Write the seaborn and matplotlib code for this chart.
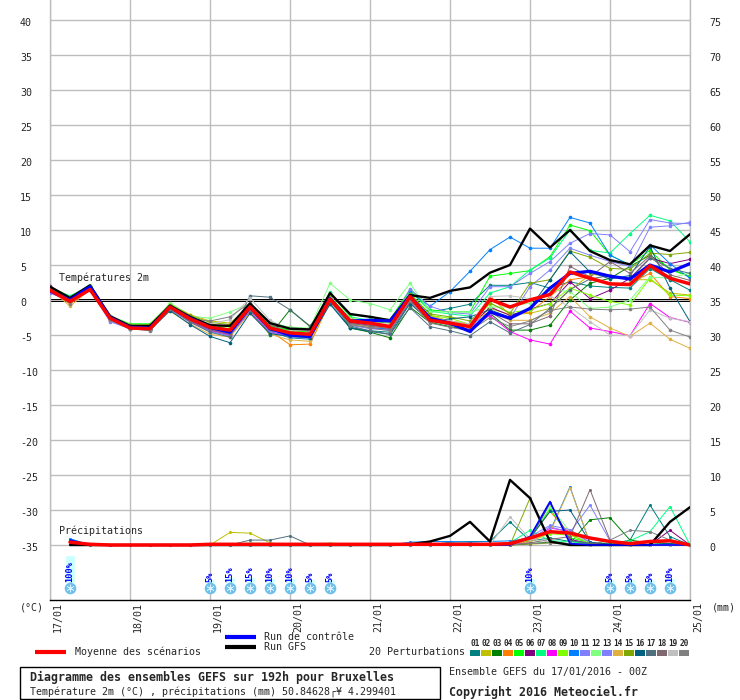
import matplotlib
matplotlib.use('Agg')
import matplotlib.pyplot as plt
from matplotlib.lines import Line2D
from matplotlib.patches import Rectangle
from matplotlib.transforms import ScaledTranslation
import numpy as np
import pandas as pd
import seaborn as sns

# forecast steps, every 6h for 192h
hours = list(range(0, 198, 6))
day_ticks = list(range(0, 216, 24))
day_labels = ['17/01', '18/01', '19/01', '20/01', '21/01', '22/01', '23/01', '24/01', '25/01']

temp_ticks = list(range(-35, 45, 5))
precip_ticks = list(range(0, 80, 5))

member_names = ['01', '02', '03', '04', '05', '06', '07', '08', '09', '10',
                '11', '12', '13', '14', '15', '16', '17', '18', '19', '20']
member_colors = ['#008080', '#c0c000', '#008000', '#ff8000', '#00ff00', '#800080', '#00ff80',
                 '#ff00ff', '#80ff00', '#0080ff', '#8080ff', '#80ff80', '#8080ff', '#e0b040',
                 '#80a800', '#006080', '#507080', '#806870', '#c0c0c0', '#808080']

# temperature 2m per perturbation
t01 = [1.5, 0.3, 1.7, -2.6, -4.0, -4.2, -1.3, -3.0, -4.4, -5.1, -1.6, -4.5, -5.4, -5.6, -0.5, -3.9, -4.4, -4.6, -0.3, -1.7, -1.2, -0.6, 2.1, 2.1, 2.5, 1.7, 2.6, 2.0, 1.8, 1.7, 4.5, 2.9, 1.4]
t02 = [1.7, -0.3, 1.6, -2.5, -3.7, -3.8, -0.5, -2.1, -3.0, -3.3, -0.8, -3.6, -4.4, -4.6, 0.2, -3.0, -3.3, -3.8, 0.4, -2.2, -3.0, -3.5, -1.2, -2.1, -1.9, -1.2, 1.4, 3.6, 3.6, 2.9, 2.9, 1.0, 0.7]
t03 = [1.6, 0.1, 2.0, -2.4, -3.8, -4.0, -1.2, -3.0, -4.1, -4.7, -1.2, -5.0, -1.4, -3.8, 0.4, -4.0, -4.6, -5.4, -1.0, -3.2, -3.8, -4.3, -1.9, -4.3, -4.3, -3.6, 0.0, 2.4, 3.1, 4.8, 6.4, 4.5, 3.3]
t04 = [1.5, -0.6, 1.5, -2.7, -3.9, -4.2, -1.4, -3.1, -4.3, -5.0, -1.3, -4.4, -6.4, -6.3, -0.3, -3.3, -3.9, -4.1, 0.8, -2.3, -3.2, -4.0, 0.5, -2.1, -1.7, 0.5, 2.9, 3.3, 2.4, 2.4, 3.8, 0.5, 0.2]
t05 = [1.9, 0.5, 1.9, -2.3, -3.4, -3.4, -0.6, -2.4, -3.6, -4.2, -0.9, -3.7, -4.3, -4.6, 1.0, -2.1, -2.4, -2.8, 1.5, -1.4, -1.7, -1.7, 3.4, 3.8, 4.2, 6.2, 10.7, 9.9, 6.4, 5.0, 7.1, 4.3, 3.4]
t06 = [2.0, 0.2, 1.8, -2.6, -4.0, -4.1, -1.0, -2.8, -4.1, -4.9, -1.1, -3.7, -3.9, -4.5, 0.5, -3.2, -3.6, -4.0, 0.2, -2.8, -3.2, -3.9, -1.0, -2.2, -1.3, -0.5, 2.6, 0.2, 1.4, 3.1, 6.0, 5.2, 5.8]
t07 = [1.7, 0.6, 2.0, -2.5, -3.7, -3.8, -0.8, -2.4, -3.5, -4.2, -0.7, -3.7, -4.5, -5.0, 1.1, -2.4, -2.9, -3.1, 1.3, -1.6, -2.0, -2.3, 1.0, 1.9, 4.3, 6.0, 10.0, 7.1, 6.7, 9.5, 12.1, 11.3, 8.3]
t08 = [1.8, 0.0, 1.7, -2.4, -3.6, -4.2, -1.1, -3.0, -4.3, -5.0, -1.7, -4.6, -5.1, -5.3, 0.2, -3.5, -3.9, -4.2, -0.3, -3.0, -3.2, -3.9, -2.2, -4.5, -5.7, -6.3, -1.6, -4.0, -4.5, -5.1, -0.5, -2.5, -3.2]
t09 = [1.7, 0.1, 1.9, -2.3, -3.5, -3.5, -0.6, -2.6, -3.5, -3.9, -0.7, -3.9, -4.9, -5.2, 0.6, -2.6, -3.1, -3.3, 1.0, -2.2, -2.6, -3.5, -0.5, -1.8, -1.4, -0.5, 1.7, 0.7, -0.2, -0.7, 3.1, 0.7, 0.6]
t10 = [1.3, 0.4, 1.8, -2.7, -4.0, -4.2, -1.2, -2.9, -4.2, -4.8, -1.3, -4.2, -5.0, -5.3, 0.0, -3.4, -3.9, -4.2, 1.1, -0.9, 1.2, 4.1, 7.2, 9.0, 7.4, 7.4, 11.8, 11.0, 6.4, 5.0, 7.9, 5.2, 3.1]
t11 = [1.1, -0.1, 1.6, -3.0, -4.0, -4.1, -1.3, -2.8, -3.9, -4.4, -1.2, -4.3, -5.0, -5.0, -0.2, -3.0, -3.5, -3.7, 1.6, -0.9, -1.8, -2.0, 1.9, 1.9, 3.8, 5.5, 8.1, 9.5, 9.3, 6.9, 11.5, 11.0, 10.9]
t12 = [1.9, 0.4, 2.2, -2.3, -3.5, -3.7, -0.4, -2.3, -2.6, -1.7, -0.5, -3.2, -3.9, -4.0, 2.4, 0.0, -0.5, -1.4, 2.4, -1.7, -1.7, -1.7, -1.0, -1.0, -0.4, 1.5, 1.2, -1.2, -1.0, 0.0, 3.3, 3.1, 3.9]
t13 = [1.0, -0.2, 1.5, -3.1, -4.1, -4.3, -1.4, -3.2, -4.5, -5.1, -1.5, -4.6, -5.3, -5.5, -0.4, -3.6, -4.1, -4.3, 0.6, -2.9, -3.4, -3.7, -1.8, -2.6, 1.9, 4.3, 7.4, 6.4, 5.5, 4.8, 10.4, 10.6, 11.1]
t14 = [1.6, -0.9, 1.5, -2.8, -4.1, -4.2, -1.6, -3.4, -4.9, -5.3, -1.8, -4.9, -5.7, -5.9, -0.3, -3.5, -3.8, -4.0, 0.4, -2.5, -3.0, -3.4, -1.6, -2.9, -2.9, -1.9, 0.5, -2.4, -4.0, -5.2, -3.3, -5.6, -6.9]
t15 = [1.7, 0.2, 1.9, -2.5, -3.6, -3.6, -0.7, -2.2, -3.2, -3.5, -1.1, -3.8, -4.6, -4.9, 0.5, -3.0, -3.4, -3.7, 0.9, -2.0, -2.4, -3.0, -0.4, -1.9, 2.4, 2.9, 7.0, 6.1, 4.5, 4.4, 6.7, 6.5, 6.8]
t16 = [1.4, -0.1, 1.7, -2.7, -4.1, -4.3, -1.5, -3.5, -5.2, -6.1, -1.9, -4.8, -5.2, -5.4, -0.6, -4.0, -4.5, -4.9, -0.5, -3.0, -2.7, -2.4, -1.4, -2.5, -1.2, 2.9, 6.9, 4.0, 3.0, 3.5, 7.6, 1.7, -3.1]
t17 = [1.5, 0.1, 1.8, -2.6, -4.0, -4.2, -1.2, -3.1, -4.6, -5.3, 0.6, 0.4, -1.4, -3.7, 0.0, -3.7, -4.4, -4.9, -1.1, -3.8, -4.4, -5.1, -3.1, -4.7, -3.5, -1.2, 1.5, 3.0, 3.5, 3.0, 6.0, 4.5, 3.8]
t18 = [1.6, 0.0, 1.7, -2.5, -3.9, -4.1, -1.1, -2.9, -4.2, -4.9, -1.4, -4.1, -4.7, -5.0, 0.1, -3.3, -3.7, -4.1, 0.0, -3.0, -3.6, -4.2, -1.7, -3.4, -3.4, -2.3, 4.8, 3.3, 5.5, 3.8, 6.3, 3.6, 2.8]
t19 = [1.5, -0.4, 1.6, -2.6, -3.8, -3.9, -0.9, -2.5, -3.4, -2.8, 0.3, -2.9, -4.3, -4.4, 0.3, -2.7, -3.2, -3.5, 0.3, -2.5, -3.0, -3.4, 0.5, 0.6, 0.2, 0.6, -1.0, -3.1, -5.0, -5.1, -1.4, -2.6, -3.1]
t20 = [1.5, -0.5, 1.6, -2.8, -4.1, -4.4, -1.3, -2.7, -3.0, -2.4, -0.4, -3.4, -4.8, -5.1, -0.1, -3.5, -4.0, -4.4, -0.2, -3.3, -3.9, -4.4, -2.5, -3.8, -3.0, -1.5, -1.0, -1.3, -1.4, -1.3, -1.0, -4.3, -5.3]
temp_members = [t01, t02, t03, t04, t05, t06, t07, t08, t09, t10,
                t11, t12, t13, t14, t15, t16, t17, t18, t19, t20]

temp_gfs = [1.9, 0.3, 2.1, -2.3, -3.7, -3.7, -0.8, -2.4, -3.6, -3.7, -0.5, -3.3, -4.1, -4.2, 1.0, -2.0, -2.4, -2.9, 0.7, 0.3, 1.3, 1.8, 3.9, 5.0, 10.2, 7.5, 10.0, 7.0, 5.7, 5.1, 7.8, 7.0, 9.4]
temp_control = [1.3, 0.0, 1.9, -2.5, -3.9, -4.0, -1.0, -2.6, -3.9, -4.6, -1.0, -4.1, -5.0, -5.2, 0.2, -3.0, -2.9, -3.0, 0.5, -2.6, -3.3, -4.5, -1.7, -2.6, -1.2, 1.7, 3.8, 4.1, 3.4, 3.0, 5.0, 4.0, 5.2]
temp_mean = [1.4, -0.2, 1.5, -2.6, -4.0, -4.1, -1.0, -2.7, -3.9, -4.3, -1.0, -4.0, -4.7, -4.9, 0.1, -3.0, -3.3, -3.8, 0.5, -2.9, -3.3, -3.8, 0.1, -1.0, 0.0, 0.8, 4.0, 3.1, 2.3, 2.2, 4.9, 3.1, 2.3]

# precipitation per perturbation, starts at +6h
precip_hours = hours[1:]
p01 = [.6, 0, 0, 0, 0, 0, 0, 0, 0, 0, 0, 0, 0, 0, 0, 0, 0, 0, 0, .4, .5, .5, 3.3, .6, 1, .5, .2, .1, .7, 5.7, 1.2, 0]
p02 = [.5, 0, 0, 0, 0, 0, 0, 0, 1.8, 1.7, .3, 0, 0, 0, 0, 0, 0, 0, 0, 0, 0, 0, 0, .1, .3, .2, 0, 0, 0, 0, 0, 0]
p03 = [.5, 0, 0, 0, 0, 0, 0, 0, 0, 0, 0, 0, 0, 0, 0, 0, 0, 0, 0, 0, 0, 0, 0, .2, .4, .2, 3.6, 3.9, .7, .3, .2, 0]
p04 = [.6, 0, 0, 0, 0, 0, 0, 0, 0, 0, 0, 0, 0, 0, 0, 0, 0, 0, 0, 0, 0, 0, .2, 1.0, 4.8, 1.5, .2, .1, 0, 0, .1, 0]
p05 = [.5, 0, 0, 0, 0, 0, 0, 0, 0, .2, 0, 0, 0, .2, 0, 0, 0, 0, 0, 0, 0, 0, .4, .8, 5.2, 1.0, .4, .2, 0, 0, 0, 0]
p06 = [.5, 0, 0, 0, 0, 0, 0, 0, 0, 0, 0, 0, 0, 0, 0, 0, 0, 0, 0, 0, 0, 0, 0, .6, 6.0, .8, .2, 0, 0, 0, 2.1, 0]
p07 = [.5, 0, 0, 0, 0, 0, 0, 0, 0, 0, 0, 0, 0, 0, 0, 0, 0, 0, 0, 0, 0, 0, .3, 2.1, .6, .5, .1, .2, .6, 1.9, 5.5, 0]
p08 = [.7, 0, 0, 0, 0, 0, 0, 0, 0, 0, 0, 0, 0, 0, 0, 0, 0, 0, 0, 0, 0, 0, 0, .5, 2.4, 2.0, .3, 0, 0, 0, 0, 0]
p09 = [.5, 0, 0, 0, 0, 0, 0, 0, 0, 0, 0, 0, 0, 0, 0, 0, 0, 0, 0, 0, 0, 0, .2, .6, 1.6, 1.4, .3, 0, .1, 0, 0, 0]
p10 = [.9, 0, 0, 0, 0, 0, 0, 0, 0, 0, 0, 0, 0, 0, 0, 0, 0, .4, .5, .5, .4, .5, .6, .9, 2.0, 8.3, .2, 0, 0, 0, 0, 0]
p11 = [.6, 0, 0, 0, 0, 0, 0, 0, 0, 0, 0, 0, 0, 0, 0, 0, 0, 0, 0, 0, 0, 0, .2, .8, 2.6, 1.8, 5.7, .6, 0, 0, 0, 0]
p12 = [.5, 0, 0, 0, 0, 0, 0, 0, 0, .3, .2, 0, 0, .3, 0, 0, 0, 0, 0, 0, 0, 0, .3, .7, 5.5, 1.9, .2, 0, 0, 0, 0, 0]
p13 = [.6, 0, 0, 0, 0, 0, 0, 0, 0, 0, 0, 0, 0, 0, 0, 0, 0, 0, 0, 0, 0, 0, .3, 1.2, 2.8, 2.2, .4, .1, 0, 0, 0, 0]
p14 = [.4, 0, 0, 0, 0, 0, 0, 0, 0, 0, 0, 0, 0, 0, 0, 0, 0, 0, 0, 0, 0, 0, .2, .4, 1.8, 8.2, .3, 0, 0, 0, 0, 0]
p15 = [.5, 0, 0, 0, 0, 0, 0, 0, 0, 0, 0, 0, 0, 0, 0, 0, 0, 0, 0, 0, 0, 0, 0, 6.7, .3, .2, 0, 0, .1, 0, 0, 0]
p16 = [.5, 0, 0, 0, 0, 0, 0, 0, 0, 0, 0, 0, 0, 0, 0, 0, 0, 0, 0, 0, 0, 0, .2, 1.0, 4.8, 5.0, .4, .1, .1, .4, .2, 0]
p17 = [.5, 0, 0, 0, 0, 0, 0, 0, 0, .7, .7, 1.3, 0, 0, 0, 0, 0, 0, 0, 0, 0, 0, .2, .9, 6.0, .6, .3, 0, 0, 0, 0, 0]
p18 = [.5, 0, 0, 0, 0, 0, 0, 0, 0, 0, 0, 0, 0, 0, 0, 0, 0, 0, 0, 0, 0, 0, 0, .3, .8, 1.2, 7.9, .7, .2, 0, 0, 0]
p19 = [.4, 0, 0, 0, 0, 0, 0, 0, 0, 0, 0, 0, 0, 0, 0, 0, 0, 0, 0, 0, 0, 0, 4.0, .9, .4, .2, 0, 0, 0, 0, 0, 0]
p20 = [.5, 0, 0, 0, 0, 0, 0, 0, 0, 0, 0, 0, 0, 0, 0, 0, 0, 0, 0, 0, 0, 0, 0, .2, .3, .2, .1, .7, 2.1, 1.9, .7, 0]
precip_members = [p01, p02, p03, p04, p05, p06, p07, p08, p09, p10,
                  p11, p12, p13, p14, p15, p16, p17, p18, p19, p20]

precip_gfs = [0, 0, 0, 0, 0, 0, 0, 0, 0, 0, 0, 0, 0, 0, 0, 0, 0, 0.1, .5, 1.3, 3.3, .5, 9.3, 6.7, .5, 0, 0, 0, 0, 0, 3.3, 5.4]
precip_control = [.7, 0, 0, 0, 0, 0, 0, 0, 0, 0, 0, 0, 0, 0, 0, 0, 0, 0, 0, 0, 0, 0, 0, 1.2, 6.2, .2, 0, 0, 0, 0, 0, 0]
precip_mean = [.4, .1, 0, 0, 0, 0, 0, .1, .1, .1, .1, .1, .1, .1, .1, .1, .1, .1, .1, .1, .1, .1, .2, 1.0, 1.9, 1.7, 1.0, .5, .2, .5, .6, 0]

# chance of snow
snow_hours = [6, 48, 54, 60, 66, 72, 78, 84, 144, 168, 174, 180, 186]
snow_pct = [100, 5, 15, 15, 10, 10, 5, 5, 10, 5, 5, 5, 10]

sns.set_style('white')
mono = 'DejaVu Sans Mono'
plt.rcParams['font.family'] = mono


def long_table(x, members, col):
    frames = [pd.DataFrame({'hour': x, col: vals, 'member': name})
              for name, vals in zip(member_names, members)]
    return pd.concat(frames)


fig = plt.figure(figsize=(7.4, 7.0), dpi=100)
ax = fig.add_axes([50 / 740, 100 / 700, 640 / 740, 600 / 700])
palette = dict(zip(member_names, member_colors))

sns.lineplot(data=long_table(hours, temp_members, 'temp'), x='hour', y='temp', hue='member',
             palette=palette, estimator=None, marker='o', markersize=2.6, markeredgewidth=0,
             linewidth=0.7, legend=False, ax=ax, zorder=3)
sns.lineplot(x=hours, y=temp_gfs, color='black', linewidth=1.7, ax=ax, zorder=4)
sns.lineplot(x=hours, y=temp_control, color='#0000ff', linewidth=2.3, ax=ax, zorder=5)
sns.lineplot(x=hours, y=temp_mean, color='#ff0000', linewidth=2.5, ax=ax, zorder=6)

ax.set_xlim(0, 192)
ax.set_ylim(-300 / 7, 300 / 7)
ax.set_xlabel('')
ax.set_ylabel('')
ax.set_xticks(day_ticks)
ax.set_xticklabels(day_labels, rotation=90, fontsize=7.2)
ax.set_yticks(temp_ticks)
ax.set_yticklabels([str(v) for v in temp_ticks], fontsize=7.2, ha='left')
ax.tick_params(axis='x', length=0, pad=1.5)
ax.tick_params(axis='y', length=0, pad=21.6)
ax.grid(True, color='#bdbdbd', linewidth=1.0, zorder=0)
ax.set_axisbelow(True)

# date labels sit right of their gridline
shift = ScaledTranslation(8 / 100, 0, fig.dpi_scale_trans)
for lab in ax.get_xticklabels():
    lab.set_transform(lab.get_transform() + shift)
down = ScaledTranslation(0, -2 / 100, fig.dpi_scale_trans)
for lab in ax.get_yticklabels():
    lab.set_transform(lab.get_transform() + down)

for side in ['left', 'right']:
    ax.spines[side].set_color('#bdbdbd')
    ax.spines[side].set_linewidth(1.0)
ax.spines['top'].set_visible(False)
ax.spines['bottom'].set_color('black')
ax.spines['bottom'].set_linewidth(1.0)

# the double freezing line
ax.axhline(0.2, color='black', linewidth=0.72, zorder=2)
ax.axhline(-0.2, color='black', linewidth=0.72, zorder=2)

# precipitation on the right scale
ax2 = ax.twinx()
sns.lineplot(data=long_table(precip_hours, precip_members, 'precip'), x='hour', y='precip', hue='member',
             palette=palette, estimator=None, marker='o', markersize=2.2, markeredgewidth=0,
             linewidth=0.7, legend=False, ax=ax2, zorder=3)
sns.lineplot(x=precip_hours, y=precip_gfs, color='black', linewidth=1.7, ax=ax2, zorder=4)
sns.lineplot(x=precip_hours, y=precip_control, color='#0000ff', linewidth=1.2, ax=ax2, zorder=5)
sns.lineplot(x=precip_hours, y=precip_mean, color='#ff0000', linewidth=2.5, ax=ax2, zorder=6)
ax2.set_ylim(-300 / 7 + 35, 300 / 7 + 35)
ax2.set_ylabel('')
ax2.set_yticks(precip_ticks)
ax2.set_yticklabels([str(v) for v in precip_ticks], fontsize=7.2)
ax2.tick_params(axis='y', length=0, pad=14)
for lab in ax2.get_yticklabels():
    lab.set_transform(lab.get_transform() + down)
for sp in ax2.spines.values():
    sp.set_visible(False)

# snow probability strip
snow_base = -40.4
ax.bar(snow_hours, [p * 0.037 + 0.3 for p in snow_pct], bottom=snow_base, width=3,
       color='#c8ffff', zorder=2)
ax.scatter(snow_hours, [-41.1] * len(snow_hours), s=70, color='#6cc0ea', linewidths=0, zorder=3)
ax.scatter(snow_hours, [-41.1] * len(snow_hours), s=28, marker=(6, 2, 0), color='#d8f0ff',
           linewidths=0.5, zorder=4)
for h, p in zip(snow_hours, snow_pct):
    ax.text(h, -40.3, f'{p}%', rotation=90, ha='center', va='bottom', color='#0000ff',
            fontsize=6.2, fontweight='bold', zorder=5)


def fig_text(x, y, s, size=7.2, **kw):
    fig.text(x / 740, 1 - y / 700, s, fontsize=size, va='center', **kw)


def fig_line(x0, x1, y, color, width):
    fig.add_artist(Line2D([x0 / 740, x1 / 740], [1 - y / 700, 1 - y / 700], color=color,
                          linewidth=width, solid_capstyle='butt'))


fig_text(59, 278, 'Températures 2m')
fig_text(59, 531, 'Précipitations')
fig_text(20, 607, '(°C)')
fig_text(712, 607, '(mm)')

fig_line(35, 66, 652, '#ff0000', 3)
fig_text(75, 652, 'Moyenne des scénarios')
fig_line(225, 256, 637, '#0000ff', 3)
fig_text(264, 637, 'Run de contrôle')
fig_line(225, 256, 647, 'black', 3)
fig_text(264, 647, 'Run GFS')
fig_text(369, 652, '20 Perturbations')

# perturbation colour key
for i, (name, col) in enumerate(zip(member_names, member_colors)):
    fig.add_artist(Rectangle(((470 + 11 * i) / 740, 1 - 656 / 700), 10 / 740, 6 / 700,
                             color=col, linewidth=0))
    fig_text(475 + 11 * i, 644, name, size=5.6, ha='center', fontweight='bold')

fig.add_artist(Rectangle((20 / 740, 1 - 699 / 700), 420 / 740, 32 / 700, fill=False,
                         edgecolor='black', linewidth=1.0))
fig_text(30, 677, 'Diagramme des ensembles GEFS sur 192h pour Bruxelles', size=8.4, fontweight='bold')
fig_text(30, 692, 'Température 2m (°C) , précipitations (mm) 50.84628┌¥ 4.299401')
fig_text(449, 672, 'Ensemble GEFS du 17/01/2016 - 00Z')
fig_text(449, 692, 'Copyright 2016 Meteociel.fr', size=8.4, fontweight='bold')

fig.savefig('out.png', dpi=100)
